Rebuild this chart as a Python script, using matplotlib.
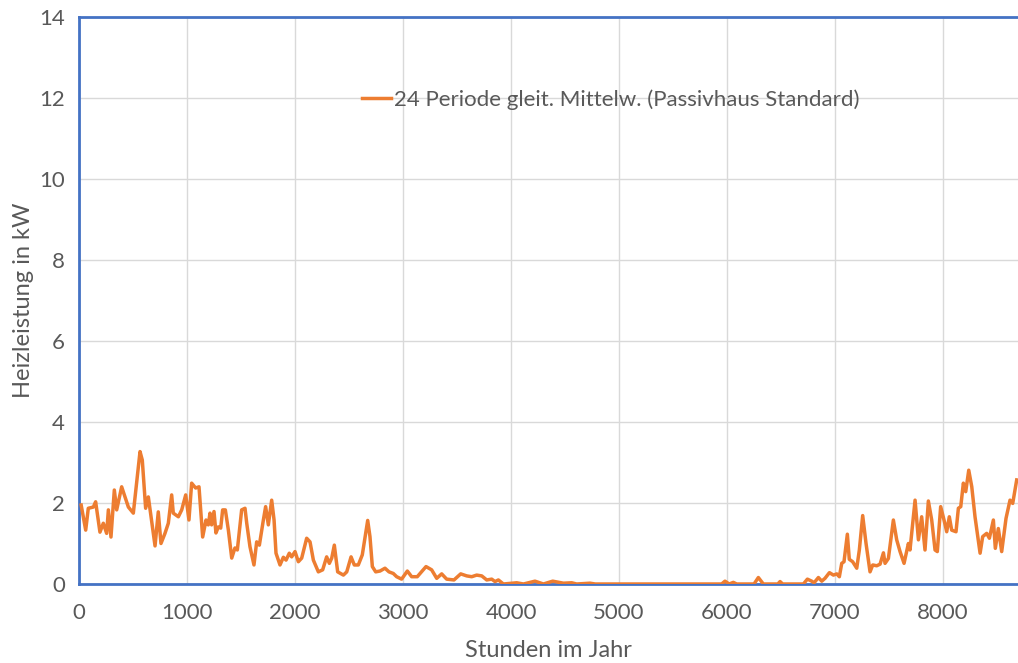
import matplotlib
matplotlib.use("Agg")
import matplotlib.pyplot as plt

# 24h moving average of heating load, passive house standard
hours = [20, 62, 86, 133, 154, 194, 225, 256, 272, 296,
         327, 349, 395, 426, 457, 503, 565, 586, 617, 642,
         704, 734, 759, 796, 827, 858, 873, 920, 951, 988,
         1018, 1043, 1080, 1111, 1145, 1176, 1197, 1213, 1228, 1250,
         1268, 1290, 1312, 1330, 1355, 1383, 1414, 1444, 1466, 1506,
         1537, 1553, 1583, 1620, 1645, 1670, 1707, 1728, 1753, 1784,
         1806, 1824, 1861, 1892, 1917, 1947, 1969, 2000, 2031, 2062,
         2108, 2139, 2170, 2216, 2256, 2293, 2318, 2340, 2364, 2395,
         2448, 2479, 2519, 2549, 2586, 2623, 2673, 2694, 2716, 2747,
         2787, 2833, 2870, 2910, 2941, 2987, 3040, 3080, 3132, 3213,
         3265, 3312, 3358, 3404, 3472, 3534, 3590, 3636, 3682, 3729,
         3775, 3821, 3852, 3883, 3929, 4053, 4115, 4222, 4300, 4386,
         4485, 4562, 4608, 4731, 4780, 5950, 5981, 6020, 6058, 6090,
         6250, 6290, 6336, 6470, 6491, 6515, 6707, 6744, 6784, 6806,
         6846, 6877, 6907, 6948, 6985, 7016, 7040, 7062, 7083, 7114,
         7132, 7163, 7201, 7225, 7256, 7287, 7324, 7349, 7386, 7417,
         7448, 7463, 7494, 7540, 7571, 7602, 7639, 7679, 7694, 7741,
         7772, 7802, 7833, 7864, 7895, 7926, 7947, 7978, 8009, 8034,
         8058, 8080, 8120, 8142, 8164, 8188, 8210, 8238, 8266, 8296,
         8343, 8367, 8404, 8429, 8466, 8484, 8512, 8543, 8583, 8620,
         8645, 8682]
load_kw = [1.95, 1.33, 1.87, 1.90, 2.03, 1.28, 1.50, 1.25, 1.83, 1.16,
           2.32, 1.83, 2.40, 2.15, 1.90, 1.75, 3.27, 3.06, 1.87, 2.15,
           0.94, 1.78, 1.00, 1.25, 1.50, 2.20, 1.75, 1.66, 1.83, 2.20,
           1.58, 2.49, 2.37, 2.40, 1.16, 1.58, 1.46, 1.75, 1.46, 1.79,
           1.26, 1.41, 1.38, 1.83, 1.83, 1.33, 0.64, 0.89, 0.84, 1.83,
           1.87, 1.50, 0.92, 0.47, 1.04, 0.96, 1.58, 1.91, 1.46, 2.07,
           1.58, 0.76, 0.47, 0.66, 0.59, 0.76, 0.67, 0.80, 0.55, 0.64,
           1.13, 1.04, 0.59, 0.30, 0.35, 0.67, 0.51, 0.64, 0.96, 0.30,
           0.22, 0.30, 0.67, 0.47, 0.47, 0.72, 1.57, 1.17, 0.43, 0.30,
           0.32, 0.39, 0.30, 0.26, 0.18, 0.12, 0.32, 0.18, 0.18, 0.43,
           0.35, 0.14, 0.25, 0.12, 0.10, 0.25, 0.20, 0.18, 0.22, 0.20,
           0.10, 0.12, 0.06, 0.10, 0.00, 0.03, 0.00, 0.07, 0.00, 0.07,
           0.02, 0.03, 0.00, 0.02, 0.00, 0.00, 0.07, 0.00, 0.04, 0.00,
           0.00, 0.16, 0.00, 0.00, 0.06, 0.00, 0.00, 0.12, 0.07, 0.03,
           0.16, 0.07, 0.14, 0.28, 0.22, 0.25, 0.18, 0.51, 0.55, 1.23,
           0.61, 0.55, 0.39, 0.84, 1.69, 1.00, 0.30, 0.47, 0.45, 0.49,
           0.77, 0.51, 0.63, 1.58, 1.09, 0.80, 0.51, 1.00, 0.84, 2.07,
           1.09, 1.66, 0.84, 2.05, 1.58, 0.84, 0.80, 1.91, 1.58, 1.29,
           1.66, 1.33, 1.29, 1.87, 1.91, 2.49, 2.28, 2.81, 2.40, 1.66,
           0.76, 1.17, 1.25, 1.13, 1.58, 0.88, 1.37, 0.80, 1.62, 2.07,
           1.99, 2.57]

x_ticks = list(range(0, 9000, 1000))
y_ticks = list(range(0, 16, 2))

series_label = "24 Periode gleit. Mittelw. (Passivhaus Standard)"
x_title = "Stunden im Jahr"
y_title = "Heizleistung in kW"

orange = "#ED7D31"
blue = "#4472C4"
grey_text = "#595959"

plt.rcParams["font.family"] = ["Lato", "DejaVu Sans"]

fig = plt.figure(figsize=(10.18, 6.63), dpi=100)
ax = fig.add_axes([79 / 1018, 79 / 663, 1 - 79 / 1018, 567 / 663])

ax.plot(hours, load_kw, color=orange, lw=2.5, label=series_label,
        solid_joinstyle="round", zorder=3)

ax.set_xlim(0, 8694)
ax.set_ylim(0, 14)
ax.set_xticks(x_ticks)
ax.set_yticks(y_ticks)
ax.grid(True, color="#D9D9D9", lw=1)
ax.set_axisbelow(True)
ax.tick_params(axis="y", length=0, labelsize=16, colors=grey_text, pad=10)
ax.tick_params(axis="x", length=0, labelsize=16, colors=grey_text, pad=14)

for side in ("left", "top", "bottom"):
    ax.spines[side].set_color(blue)
    ax.spines[side].set_linewidth(2)
ax.spines["right"].set_visible(False)

ax.set_xlabel(x_title, fontsize=17, color=grey_text, labelpad=12)
ax.set_ylabel(y_title, fontsize=17, color=grey_text, labelpad=4)

leg = ax.legend(loc="center left", bbox_to_anchor=(0.301, 0.854),
                frameon=False, fontsize=16, handlelength=1.3,
                handletextpad=0.15, borderpad=0, borderaxespad=0)
for t in leg.get_texts():
    t.set_color(grey_text)

fig.savefig("out.png", dpi=100)
